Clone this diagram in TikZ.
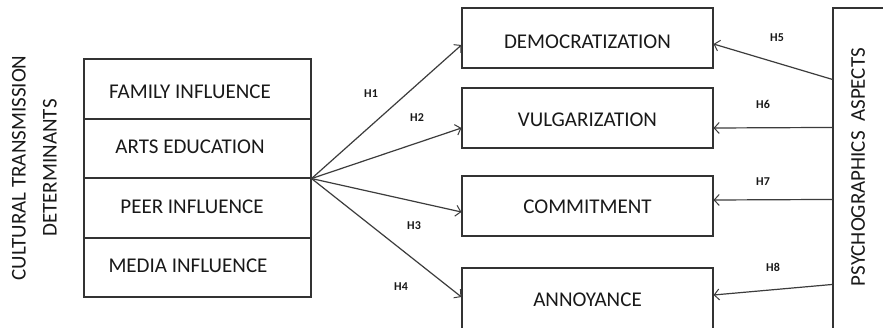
\documentclass[tikz,border=0pt]{standalone}
\usepackage{fontspec}
\setmainfont{Carlito}
\usetikzlibrary{arrows.meta,calc}
\definecolor{ln}{HTML}{3C3C3C}
\begin{document}
\begin{tikzpicture}[x=1pt,y=-1pt,
  box/.style={draw=black!80, line width=1.1pt, inner sep=0pt},
  txt/.style={font=\fontsize{21}{23}\selectfont, text=black!90, inner sep=0pt},
  hlab/.style={font=\fontsize{12}{14}\selectfont\bfseries, text=black!90, inner sep=0pt},
  conn/.style={draw=ln, line width=1.2pt, -{Straight Barb[length=5pt,width=11pt,line width=1pt]}}]
\useasboundingbox (0,0) rectangle (883,327);
\fill[white] (0,0) rectangle (883,327);
% left stack
\node[box, minimum width=227pt, minimum height=60pt] (fam) at (197.5,89) {};
\node[box, minimum width=227pt, minimum height=59pt] (arts) at (197.5,148.5) {};
\node[box, minimum width=227pt, minimum height=60pt] (peer) at (197.5,208) {};
\node[box, minimum width=227pt, minimum height=59pt] (media) at (197.5,267.5) {};
\node[txt] (famt) at (190,92) {FAMILY INFLUENCE};
\node[txt] (artst) at (190,147) {ARTS EDUCATION};
\node[txt] (peert) at (192,207) {PEER INFLUENCE};
\node[txt] (mediat) at (188,266) {MEDIA INFLUENCE};
\node[txt, rotate=90] (ctd1) at (19,168) {CULTURAL TRANSMISSION};
\node[txt, rotate=90] (ctd2) at (50,168) {DETERMINANTS};
% right boxes
\node[box, minimum width=251pt, minimum height=60pt] (dem) at (587.5,38) {};
\node[box, minimum width=251pt, minimum height=60pt] (vul) at (587.5,118) {};
\node[box, minimum width=251pt, minimum height=60pt] (com) at (587.5,206) {};
\node[box, minimum width=251pt, minimum height=64pt] (ann) at (587.5,300) {};
\node[txt] (demt) at (587.5,42) {DEMOCRATIZATION};
\node[txt] (vult) at (587.5,120) {VULGARIZATION};
\node[txt] (comt) at (587.5,207) {COMMITMENT};
\node[txt] (annt) at (587.5,300) {ANNOYANCE};
% psychographics box
\node[box, minimum width=52pt, minimum height=332pt] (psy) at (859,174) {};
\node[txt, rotate=90] (psyt) at (858,167) {PSYCHOGRAPHICS\ \ ASPECTS};
% left connectors
\coordinate (src) at (arts.south east);
\draw[conn] (src) -- ($(dem.west)+(0,7)$);
\draw[conn] (src) -- ($(vul.west)+(0,10)$);
\draw[conn] (src) -- ($(com.west)+(0,6)$);
\draw[conn] (src) -- ($(ann.west)+(0,-3)$);
% right connectors
\draw[conn] ($(psy.north west)+(0,72)$) -- ($(dem.east)+(0,6)$);
\draw[conn] ($(psy.north west)+(0,120)$) -- ($(vul.east)+(0,10)$);
\draw[conn] ($(psy.north west)+(0,192)$) -- ($(com.east)+(0,-6)$);
\draw[conn] ($(psy.north west)+(0,277)$) -- ($(ann.east)+(0,-5)$);
% labels
\node[hlab] (h1) at (371,94) {H1};
\node[hlab] (h2) at (417,118) {H2};
\node[hlab] (h3) at (414,226) {H3};
\node[hlab] (h4) at (401,287) {H4};
\node[hlab] (h5) at (777,38) {H5};
\node[hlab] (h6) at (763,104) {H6};
\node[hlab] (h7) at (763,182) {H7};
\node[hlab] (h8) at (773,267) {H8};
\end{tikzpicture}
\end{document}
